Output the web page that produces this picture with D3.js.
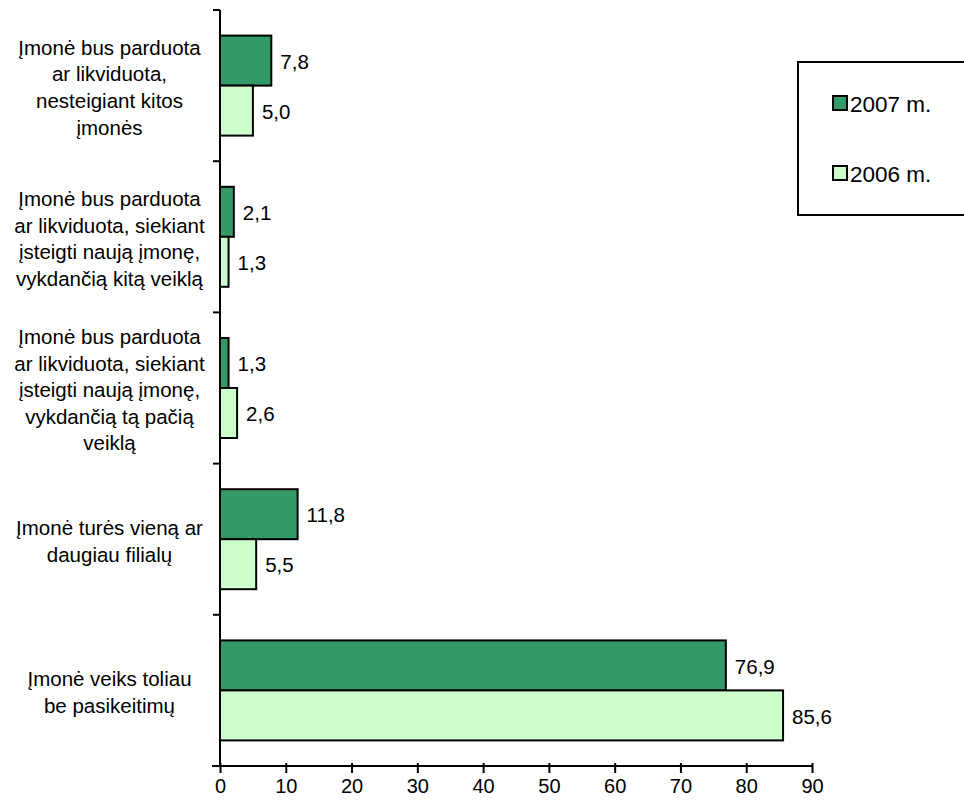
<!DOCTYPE html>
<html>
<head>
<meta charset="utf-8">
<script src="https://cdn.jsdelivr.net/npm/d3@7/dist/d3.min.js"></script>
<style>
body{margin:0;background:#fff;}
svg{display:block;font-family:"Liberation Sans",Arial,sans-serif;}
</style>
</head>
<body>
<svg id="chart" width="964" height="805"></svg>
<script>
const categories = [
  ["Įmonė bus parduota","ar likviduota,","nesteigiant kitos","įmonės"],
  ["Įmonė bus parduota","ar likviduota, siekiant","įsteigti naują įmonę,","vykdančią kitą veiklą"],
  ["Įmonė bus parduota","ar likviduota, siekiant","įsteigti naują įmonę,","vykdančią tą pačią","veiklą"],
  ["Įmonė turės vieną ar","daugiau filialų"],
  ["Įmonė veiks toliau","be pasikeitimų"]
];
const series = ["2007 m.","2006 m."];
const values2007 = [7.8, 2.1, 1.3, 11.8, 76.9];
const values2006 = [5.0, 1.3, 2.6, 5.5, 85.6];
const xTicks = [0,10,20,30,40,50,60,70,80,90];
const colors = ["#339966","#CCFFCC"];

(function(){
const svg = d3.select("#chart");
const pl = 220, pr = 812, pt = 10, pb = 766;
const idx = categories.map((d,i)=>i);
const x = d3.scaleLinear().domain([0,90]).range([pl,pr]);
const y = d3.scaleBand().domain(idx).range([pt,pb]).paddingInner(0).paddingOuter(0);
const inner = d3.scaleBand().domain(series).range([0,y.bandwidth()]).paddingOuter(0.512).paddingInner(0);

const data = idx.map(i=>({i, vals:[values2007[i], values2006[i]]}));

const g = svg.append("g");
const groups = g.selectAll("g.grp").data(data).join("g")
  .attr("transform", d=>`translate(0,${y(d.i)})`);

groups.selectAll("rect").data(d=>d.vals.map((v,k)=>({v,k}))).join("rect")
  .attr("x", x(0))
  .attr("y", d=>inner(series[d.k]))
  .attr("width", d=>x(d.v)-x(0))
  .attr("height", inner.bandwidth())
  .attr("fill", d=>colors[d.k])
  .attr("stroke","#000")
  .attr("stroke-width",2);

groups.selectAll("text.val").data(d=>d.vals.map((v,k)=>({v,k}))).join("text")
  .attr("class","val")
  .attr("x", d=>x(d.v)+9)
  .attr("y", d=>inner(series[d.k])+inner.bandwidth()/2+1)
  .attr("dy","0.35em")
  .attr("font-size",20.5)
  .text(d=>d.v.toFixed(1).replace(".",","));

const lh = 26.6;
groups.each(function(d){
  const lines = categories[d.i];
  const cy = y.bandwidth()/2;
  const t = d3.select(this).append("text")
    .attr("text-anchor","middle").attr("font-size",20.5);
  lines.forEach((ln,j)=>{
    t.append("tspan").attr("x",109.5)
      .attr("y", cy + (j-(lines.length-1)/2)*lh + 2)
      .attr("dy","0.35em").text(ln);
  });
});

g.append("line").attr("x1",pl).attr("x2",pl).attr("y1",pt).attr("y2",pb)
  .attr("stroke","#000").attr("stroke-width",2);
const yTicks = d3.range(0,categories.length+1).map(k=>pt + k*y.step());
g.selectAll("line.yt").data(yTicks).join("line")
  .attr("x1",pl-7).attr("x2",pl).attr("y1",d=>d).attr("y2",d=>d)
  .attr("stroke","#000").attr("stroke-width",2);

const xAxis = d3.axisBottom(x).tickValues(xTicks).tickSizeInner(7).tickSizeOuter(0).tickPadding(6).tickFormat(d=>d);
const xa = g.append("g").attr("transform",`translate(0,${pb})`).call(xAxis);
xa.select(".domain").attr("stroke-width",2).attr("d",`M${pl-8},0H${pr}`);
xa.selectAll(".tick line").attr("stroke-width",2).attr("y1",-3);
xa.selectAll(".tick text").attr("font-size",20).attr("font-family","Liberation Sans, Arial, sans-serif").attr("fill","#000");

const lg = svg.append("g");
lg.append("rect").attr("x",798).attr("y",62).attr("width",180).attr("height",153)
  .attr("fill","#fff").attr("stroke","#000").attr("stroke-width",2);
const ly = [103, 173];
series.forEach((s,k)=>{
  lg.append("rect").attr("x",833).attr("y",ly[k]-7).attr("width",14).attr("height",14)
    .attr("fill",colors[k]).attr("stroke","#000").attr("stroke-width",2);
  lg.append("text").attr("x",850).attr("y",ly[k]+1).attr("dy","0.35em").attr("font-size",22.5).text(s);
});
})();
</script>
</body>
</html>
